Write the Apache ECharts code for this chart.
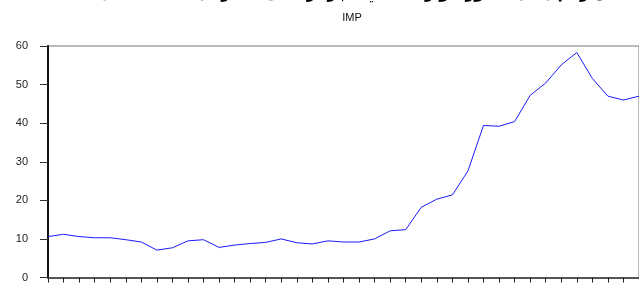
<!DOCTYPE html>
<html>
<head>
<meta charset="utf-8">
<script src="https://cdn.jsdelivr.net/npm/echarts@6/dist/echarts.min.js"></script>
<style>
  html, body { margin: 0; padding: 0; background: #fff; }
  #chart { width: 639px; height: 283px; }
</style>
</head>
<body>
<div id="chart"></div>
<script>
// years 1970 - 2008
var years = [];
for (var y = 1970; y <= 2008; y++) { years.push(String(y)); }

// IMP values
var impValues = [
  10.6, 11.2, 10.6, 10.3, 10.3, 9.8, 9.2, 7.1, 7.7, 9.5,
  9.8, 7.8, 8.4, 8.8, 9.1, 10.0, 9.0, 8.7, 9.5, 9.2,
  9.2, 10.0, 12.1, 12.4, 18.2, 20.3, 21.4, 27.6, 39.4, 39.2,
  40.4, 47.2, 50.4, 55.1, 58.3, 51.6, 47.0, 46.0, 47.0
];

var mainTitle = 'الشكل رقم (02): تطور الواردات في الجزائر خلال الفترة (1970-2008)';
var subTitle = 'IMP';

var chart = echarts.init(document.getElementById('chart'));

var option = {
  animation: false,
  backgroundColor: '#fff',
  title: [
    {
      text: mainTitle,
      left: 367,
      textAlign: 'center',
      top: -19,
      textStyle: { fontFamily: 'DejaVu Sans', fontWeight: 'bold', fontSize: 15.5, color: '#000' }
    },
    {
      text: subTitle,
      left: 347,
      textAlign: 'center',
      top: 7,
      textStyle: { fontFamily: 'Liberation Sans', fontWeight: 'normal', fontSize: 11, color: '#111' }
    }
  ],
  grid: {
    left: 48, top: 46, bottom: 2, right: -8,
    show: true, borderColor: '#777', borderWidth: 1
  },
  xAxis: {
    type: 'category',
    data: years,
    boundaryGap: false,
    axisLine: { show: true, lineStyle: { color: '#555', width: 2 } },
    axisTick: { show: true, interval: 0, length: 5, lineStyle: { color: '#222' } },
    axisLabel: { show: false },
    splitLine: { show: false }
  },
  yAxis: {
    type: 'value',
    min: 0, max: 60, interval: 10,
    axisLine: { show: true, lineStyle: { color: '#111', width: 2 } },
    axisTick: { show: true, length: 8, lineStyle: { color: '#333' } },
    axisLabel: { margin: 20, fontFamily: 'Liberation Sans', fontSize: 11, color: '#222' },
    splitLine: { show: false }
  },
  series: [
    {
      name: 'IMP',
      type: 'line',
      data: impValues,
      showSymbol: false,
      lineStyle: { color: '#1a1aff', width: 1 }
    }
  ]
};

chart.setOption(option);
</script>
</body>
</html>
